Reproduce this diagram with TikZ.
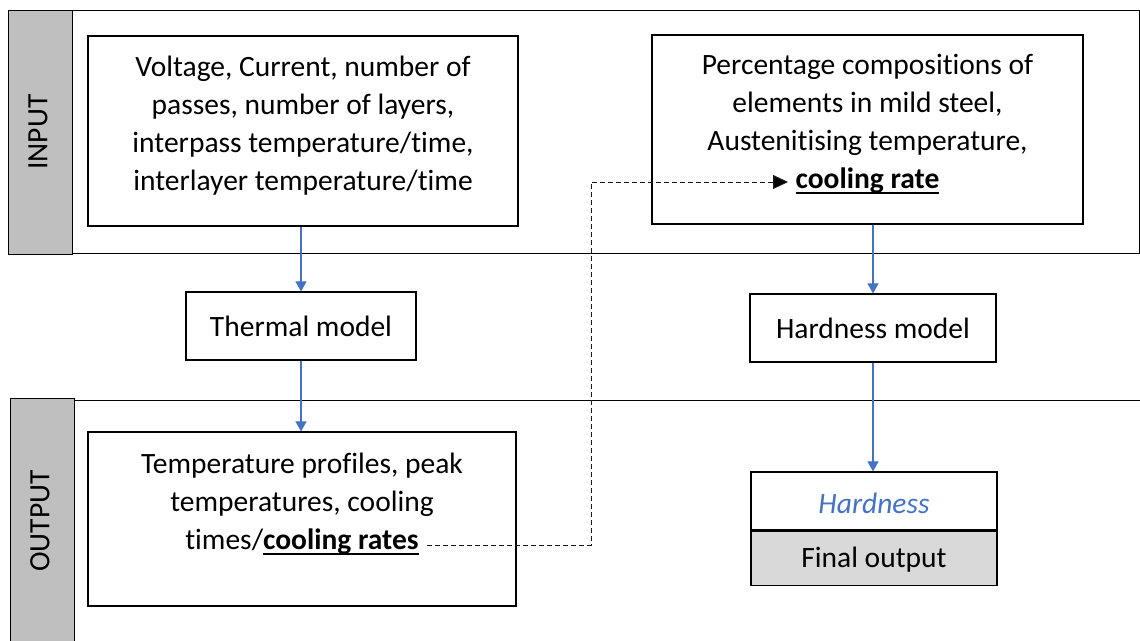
\documentclass[tikz,border=0pt]{standalone}
\usepackage{fontspec}
\setmainfont{Carlito}[Ligatures=NoCommon]
\usetikzlibrary{arrows.meta}
\definecolor{lanegray}{HTML}{BFBFBF}
\definecolor{outgray}{HTML}{D9D9D9}
\definecolor{flowblue}{HTML}{4472C4}
\newsavebox{\ulbox}
\newcommand{\ulbold}[1]{\sbox{\ulbox}{\textbf{#1}}\rlap{\raisebox{-5pt}{\rule{\wd\ulbox}{1.8pt}}}\usebox{\ulbox}}
\begin{document}
\begin{tikzpicture}[x=1pt,y=-1pt,
  txt/.style={font=\fontsize{29.5}{38}\selectfont},
  box/.style={draw=black,line width=1.2pt,fill=white,align=center,inner sep=0pt,txt},
  lanelabel/.style={draw=black,line width=0.9pt,fill=lanegray},
  flow/.style={draw=flowblue,line width=1.1pt,-{Triangle[length=10pt,width=11pt]}},
  link/.style={draw=black!90,line width=1pt,dash pattern=on 5pt off 3pt,-{Triangle[length=15pt,width=14pt,fill=black]}}
]
\useasboundingbox (0,0) rectangle (1140,640);
\fill[white] (0,0) rectangle (1140,640);

% swimlanes
\draw[line width=0.9pt] (72,10) rectangle (1139,253);
\draw[lanelabel] (8,10) rectangle (72,254);
\node[txt,rotate=90] (inlabel) at (38,132) {INPUT};
\draw[line width=0.9pt] (74,400) -- (1140,400);
\draw[lanelabel] (10,398) rectangle (74,645);
\node[txt,rotate=90] (outlabel) at (40,521) {OUTPUT};

% input boxes
\node[box,minimum width=430pt,minimum height=190pt] (params) at (303,131) {};
\node[txt,align=center] (paramstext) at (303,126)
  {Voltage, Current, number of\\passes, number of layers,\\interpass temperature/time,\\interlayer temperature/time};
\node[box,minimum width=431pt,minimum height=189pt] (steel) at (867.5,129.5) {};
\node[txt,align=center] (steeltext) at (867.5,124)
  {Percentage compositions of\\elements in mild steel,\\Austenitising temperature,\\\ulbold{cooling rate}};

% models
\node[box,minimum width=230pt,minimum height=68pt] (thermal) at (301,326) {Thermal model};
\node[box,minimum width=246pt,minimum height=68pt] (hmodel) at (873,328) {Hardness model};

% outputs
\node[box,minimum width=428pt,minimum height=174pt] (profiles) at (302,519) {};
\node[txt,align=center] (profilestext) at (302,504)
  {Temperature profiles, peak\\temperatures, cooling\\times/\ulbold{cooling rates}};
\node[box,minimum width=246pt,minimum height=58pt,font=\fontsize{29.5}{38}\selectfont\itshape,text=flowblue,text height=25pt,text depth=0pt] (hardness) at (874,501) {Hardness};
\node[box,minimum width=246pt,minimum height=54pt,fill=outgray,anchor=north,text height=25pt,text depth=6pt] (final) at (hardness.south) {Final output};

% flow arrows
\draw[flow] (thermal.north |- params.south) -- (thermal.north);
\draw[flow] (thermal.south) -- (thermal.south |- profiles.north);
\draw[flow] (hmodel.north |- steel.south) -- (hmodel.north);
\draw[flow] (hmodel.south) -- (hmodel.south |- hardness.north);

% cooling rate link
\coordinate (linkstart) at (427,545);
\coordinate (linkend) at (788,182);
\draw[link] (linkstart) -- (591,545) -- (591,182) -- (linkend);
\end{tikzpicture}
\end{document}
